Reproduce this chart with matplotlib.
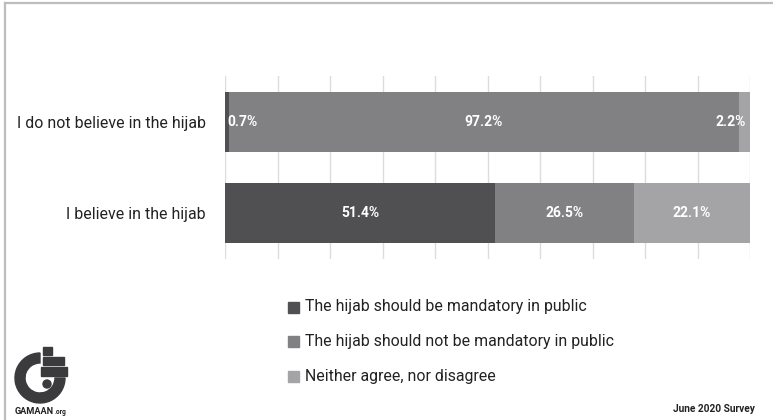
import matplotlib.pyplot as plt
from matplotlib.patches import Rectangle, Wedge, Circle
from matplotlib.lines import Line2D

categories = ['I believe in the hijab', 'I do not believe in the hijab']
mandatory = [51.4, 0.7]
not_mandatory = [26.5, 97.2]
neither = [22.1, 2.2]
series_names = ['The hijab should be mandatory in public',
                'The hijab should not be mandatory in public',
                'Neither agree, nor disagree']
colors = ['#505052', '#818184', '#a4a4a7']

plt.rcParams['font.family'] = ['Roboto', 'DejaVu Sans']

W, H = 773, 420
fig = plt.figure(figsize=(W / 100, H / 100), dpi=100)

# cadre gris
fig.add_artist(Line2D([5 / W, 5 / W], [0, 1 - 3 / H], color='#bdbdbd', lw=1.6))
fig.add_artist(Line2D([5 / W, 1], [1 - 3 / H, 1 - 3 / H], color='#bdbdbd', lw=1.6))

ax = fig.add_axes([225 / W, 1 - 259 / H, 525 / W, 183 / H])
y = list(range(len(categories)))
left = [0] * len(categories)
for vals, c in zip([mandatory, not_mandatory, neither], colors):
    ax.barh(y, vals, left=left, height=0.66, color=c, zorder=2)
    for i, v in enumerate(vals):
        cx = left[i] + v / 2
        if v < 1.5:
            ax.text(left[i] + 0.4, i, f'{v}%', ha='left', va='center', color='white',
                    fontsize=10, fontweight='bold', zorder=3)
        elif v < 5:
            ax.text(left[i] + v - 0.8, i, f'{v}%', ha='right', va='center', color='white',
                    fontsize=10, fontweight='bold', zorder=3)
        else:
            ax.text(cx, i, f'{v}%', ha='center', va='center', color='white',
                    fontsize=10, fontweight='bold', zorder=3)
    left = [l + v for l, v in zip(left, vals)]

ax.set_xlim(0, 100)
ax.set_ylim(-0.505, 1.505)
ax.set_xticks(range(0, 101, 10))
ax.xaxis.grid(True, color='#dcdcdc', lw=1, zorder=0)
ax.tick_params(axis='x', length=0, labelbottom=False)
ax.tick_params(axis='y', length=0, pad=14)
ax.set_yticks(y)
ax.set_yticklabels(categories, fontsize=11.4, color='#222222')
for s in ax.spines.values():
    s.set_visible(False)

# légende manuelle
for k, (name, c) in enumerate(zip(series_names, colors)):
    yy = 307 + k * 34.5
    fig.add_artist(Rectangle((288 / W, 1 - (yy + 5.5) / H), 11 / W, 11 / H,
                             color=c, transform=fig.transFigure))
    fig.text(305 / W, 1 - yy / H, name, ha='left', va='center', fontsize=11.4,
             color='#222222')

fig.text(755 / W, 1 - 409 / H, 'June 2020 Survey', ha='right', va='center',
         fontsize=7.3, fontweight='bold', color='#222222')

# logo GAMAAN
lax = fig.add_axes([0, 0, 1, 1])
lax.set_xlim(0, W)
lax.set_ylim(H, 0)
lax.axis('off')
lc = '#3b3b3d'
cx, cy = 40, 378
lax.add_patch(Wedge((cx, cy), 25, 0, 270, width=10, color=lc))
lax.add_patch(Rectangle((43, 347), 9, 8, color=lc))
lax.add_patch(Rectangle((43, 357), 21, 8, color=lc))
lax.add_patch(Rectangle((41, 367), 26, 9, color=lc))
lax.add_patch(Circle((47, 384), 4, color=lc))
t = lax.text(15, 414, 'GAMAAN', fontsize=6.6, fontweight='bold', color='#222222',
             va='baseline')
lax.annotate('.org', xy=(1, 0), xycoords=t, xytext=(0.5, 0), textcoords='offset points',
             fontsize=4.8, fontweight='bold', color='#222222', va='bottom')

fig.savefig('out.png', dpi=100)
